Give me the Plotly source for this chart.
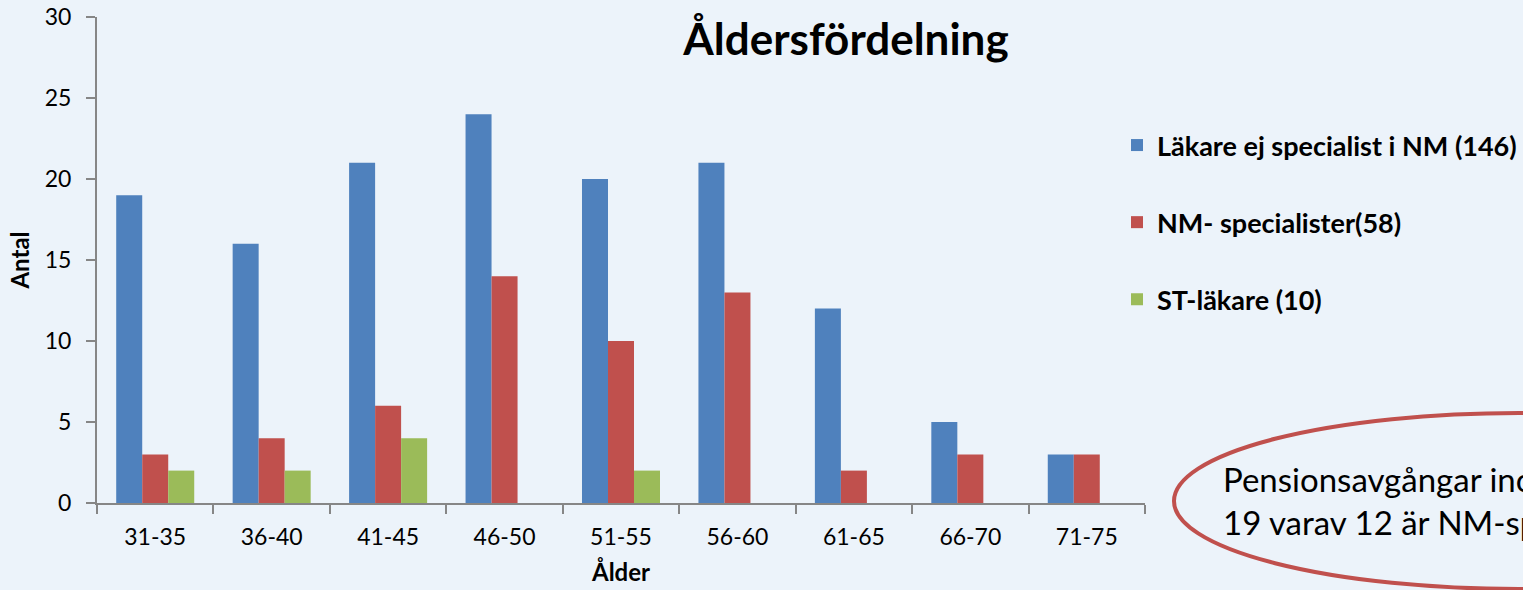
import plotly.graph_objects as go

categories = ["31-35", "36-40", "41-45", "46-50", "51-55", "56-60", "61-65", "66-70", "71-75"]
lakare = [19, 16, 21, 24, 20, 21, 12, 5, 3]
nm_spec = [3, 4, 6, 14, 10, 13, 2, 3, 3]
st_lakare = [2, 2, 4, 0, 2, 0, 0, 0, 0]
series_names = ["Läkare ej specialist i NM (146)", "NM- specialister(58)", "ST-läkare (10)"]
y_ticks = [0, 5, 10, 15, 20, 25, 30]

W, H = 1523, 590
L, R, T, B = 97, 1145, 17, 503
pw, ph = R - L, B - T

def px_x(x):
    return (x - L) / pw

def px_y(y):
    return 1 - (y - T) / ph

FONT = "Lato"
BG = "#ECF3FA"
AX = "#868686"

fig = go.Figure()
colors = ["#4F81BD", "#C0504D", "#9BBB59"]
for i, (vals, name) in enumerate(zip([lakare, nm_spec, st_lakare], series_names)):
    fig.add_trace(go.Bar(
        x=categories, y=vals, name=f"<b>{name}</b>", legendgroup=f"g{i}",
        marker=dict(color=colors[i], line=dict(width=0)),
    ))

fig.update_layout(
    width=W, height=H,
    margin=dict(l=L, r=W - R, t=T, b=H - B, autoexpand=False),
    paper_bgcolor=BG, plot_bgcolor=BG,
    barmode="group", bargap=0.33, bargroupgap=0,
    font=dict(family=FONT, color="black"),
    title=dict(text="<b>Åldersfördelning</b>", x=846 / W, xref="container", xanchor="center",
               y=1 - 40 / H, yref="container", yanchor="middle",
               font=dict(size=44, family=FONT, color="black")),
    showlegend=True,
    legend=dict(x=px_x(1117), y=px_y(121), xanchor="left", yanchor="top",
                traceorder="grouped", tracegroupgap=39, bgcolor="rgba(0,0,0,0)",
                font=dict(size=27, family=FONT, color="black")),
    xaxis=dict(
        showgrid=False, showline=True, linecolor=AX, linewidth=2,
        ticks="outside", tickson="boundaries", ticklen=9, tickcolor=AX, tickwidth=2,
        tickfont=dict(size=23, family=FONT, color="black"),
        ticklabelstandoff=12,
        title=dict(text="<b>Ålder</b>", font=dict(size=24, family=FONT, color="black"), standoff=16),
    ),
    yaxis=dict(
        range=[0, 30], tickvals=y_ticks, showgrid=False, zeroline=False,
        showline=True, linecolor=AX, linewidth=2,
        ticks="outside", ticklen=9, tickcolor=AX, tickwidth=2,
        tickfont=dict(size=23, family=FONT, color="black"),
        ticklabelstandoff=10,
        title=dict(text="<b>Antal</b>", font=dict(size=24, family=FONT, color="black"), standoff=8),
    ),
)

fig.add_shape(type="circle", xref="paper", yref="paper",
              x0=px_x(1174), x1=px_x(1864), y0=px_y(589), y1=px_y(413),
              line=dict(color="#C0504D", width=4), fillcolor="rgba(0,0,0,0)", layer="above")

fig.add_annotation(xref="paper", yref="paper", x=px_x(1221), y=px_y(500),
                   xanchor="left", yanchor="middle", align="left", showarrow=False,
                   text="Pensionsavgångar inom 10 år:<br>19 varav 12 är NM-specialister",
                   font=dict(size=33, family=FONT, color="black"))

fig.write_html("out.html", config={"displayModeBar": False},
               post_script="document.body.style.margin='0';")
